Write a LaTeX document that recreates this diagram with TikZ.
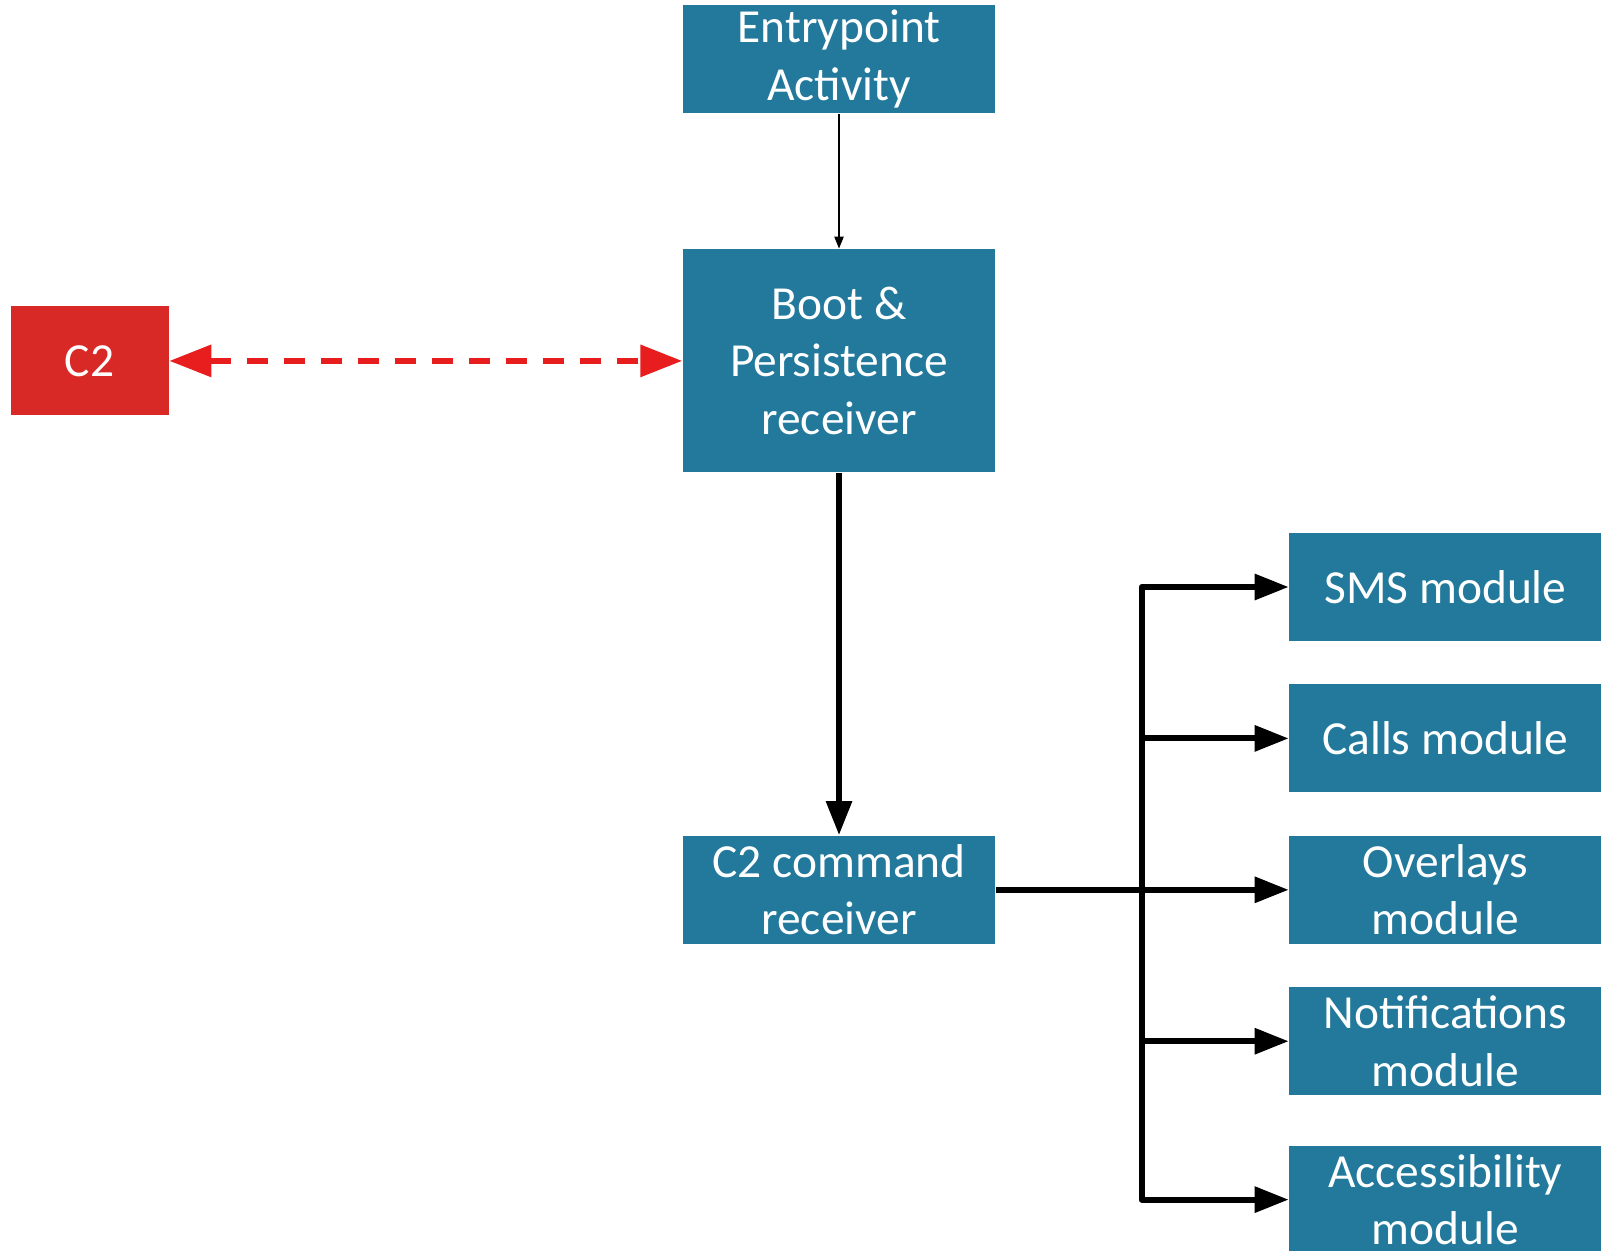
\documentclass[tikz,border=0pt]{standalone}
\usepackage{fontspec}
\setmainfont{Carlito}
\usetikzlibrary{arrows.meta, positioning}
\definecolor{modteal}{RGB}{34,121,155}
\definecolor{c2red}{RGB}{217,41,38}
\definecolor{linkred}{RGB}{232,30,30}

\begin{document}
\begin{tikzpicture}[
    box/.style={fill=modteal, text=white, minimum width=3.12cm, minimum height=1.08cm,
                inner sep=0pt, align=center, font=\fontsize{13.5}{16.4}\selectfont},
    thinarrow/.style={-{Triangle[length=1.2mm, width=0.9mm]}, line width=0.6pt},
    arrow/.style={-{Triangle[length=3.4mm, width=2.5mm]}, line width=1.7pt, line join=round},
    c2link/.style={{Triangle[length=4.2mm, width=3.1mm]}-{Triangle[length=4.2mm, width=3.1mm]},
                   line width=1.8pt, linkred, dash pattern=on 2.1mm off 1.6mm}
  ]
  \useasboundingbox (0,0) rectangle (16.08,-12.50);
  \node[box] (entry) at (8.39,-0.59) {Entrypoint\\Activity};
  \node[box, minimum height=2.23cm, below=1.35cm of entry] (boot) {Boot \&\\Persistence\\receiver};
  \node[box, fill=c2red, minimum width=1.58cm, minimum height=1.09cm, left=5.13cm of boot] (c2) {C2};
  \node[box, below=3.62cm of boot] (cmd) {C2 command\\receiver};

  \node[box, right=2.93cm of cmd]       (overlays) {Overlays\\module};
  \node[box, above=0.42cm of overlays]  (calls)    {Calls module};
  \node[box, above=0.42cm of calls]     (sms)      {SMS module};
  \node[box, below=0.42cm of overlays]  (notif)    {Notifications\\module};
  \node[box, below=0.49cm of notif]     (access)   {Accessibility\\module};

  \draw[thinarrow] (entry) -- (boot);
  \draw[arrow] (boot) -- (cmd);
  \draw[c2link] (c2) -- (boot);

  % fan-out to the modules
  \draw[line width=1.7pt] (cmd.east) -- ++(1.46,0) coordinate (split);
  \foreach \mod in {sms, calls, overlays, notif, access}
    \draw[arrow] (split) |- (\mod.west);
\end{tikzpicture}
\end{document}
